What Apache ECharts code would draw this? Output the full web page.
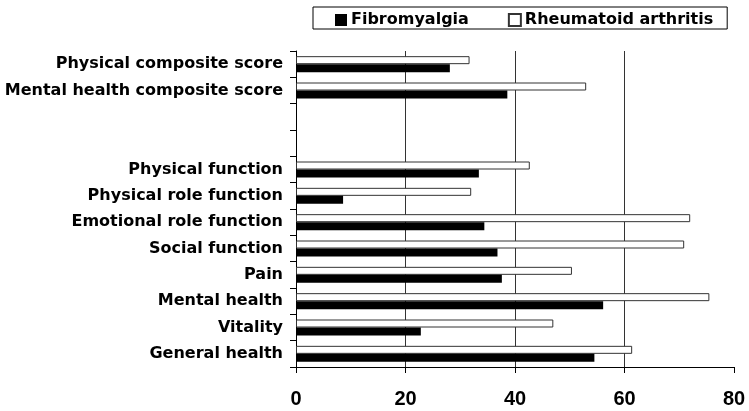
<!DOCTYPE html>
<html><head><meta charset="utf-8">
<script src="https://cdn.jsdelivr.net/npm/echarts@6/dist/echarts.min.js"></script>
<style>html,body{margin:0;padding:0;background:#fff}#c{width:749px;height:411px}</style>
</head><body><div id="c"></div>
<script>
const categories = ['General health','Vitality','Mental health','Pain','Social function','Emotional role function','Physical role function','Physical function',' ','  ','Mental health composite score','Physical composite score'];
const fibromyalgia = [54.5, 22.8, 56.1, 37.6, 36.8, 34.4, 8.6, 33.4, null, null, 38.6, 28.1];
const rheumatoid = [61.4, 47.0, 75.5, 50.4, 70.9, 72.0, 32.0, 42.7, null, null, 53.0, 31.7];
const xTicks = [0, 20, 40, 60, 80];

const wideFont = 'DejaVu Sans, sans-serif';
const font = 'Liberation Sans, Arial, sans-serif';
const chart = echarts.init(document.getElementById('c'), null, {renderer:'canvas'});
chart.setOption({
  animation: false,
  backgroundColor: '#fff',
  legend: {
    data: ['Fibromyalgia','Rheumatoid arthritis'],
    left: 313, top: 7,
    padding: [5, 14, 1, 22],
    borderColor: '#000', borderWidth: 1,
    itemWidth: 12, itemHeight: 12, itemGap: 39,
    icon: 'rect',
    textStyle: {fontFamily: wideFont, fontWeight: 'bold', fontSize: 16, color: '#000', padding: [0,0,0,-1]}
  },
  grid: {left: 296, right: 15, top: 51, bottom: 44, containLabel: false},
  xAxis: {
    type: 'value', min: xTicks[0], max: xTicks[xTicks.length-1], interval: 20,
    axisLine: {show: true, lineStyle: {color: '#000', width: 1}},
    axisTick: {show: true, length: 6, lineStyle: {color: '#000'}},
    axisLabel: {fontFamily: font, fontWeight: 'bold', fontSize: 20, color: '#000', margin: 22},
    splitLine: {show: true, showMinLine: false, showMaxLine: false, lineStyle: {color: '#333', width: 1}}
  },
  yAxis: {
    type: 'category', data: categories,
    axisLine: {show: true, lineStyle: {color: '#000', width: 1}},
    axisTick: {show: true, length: 6, lineStyle: {color: '#000'}},
    axisLabel: {fontFamily: wideFont, fontWeight: 'bold', fontSize: 16, color: '#000', margin: 13}
  },
  series: [
    {name: 'Rheumatoid arthritis', type: 'bar', data: rheumatoid, barWidth: 8, barGap: '0%',
     itemStyle: {color: '#fff', borderColor: '#333', borderWidth: 1}},
    {name: 'Fibromyalgia', type: 'bar', data: fibromyalgia, barWidth: 8, barGap: '0%',
     itemStyle: {color: '#000', borderColor: '#000', borderWidth: 0}}
  ]
});
</script></body></html>
